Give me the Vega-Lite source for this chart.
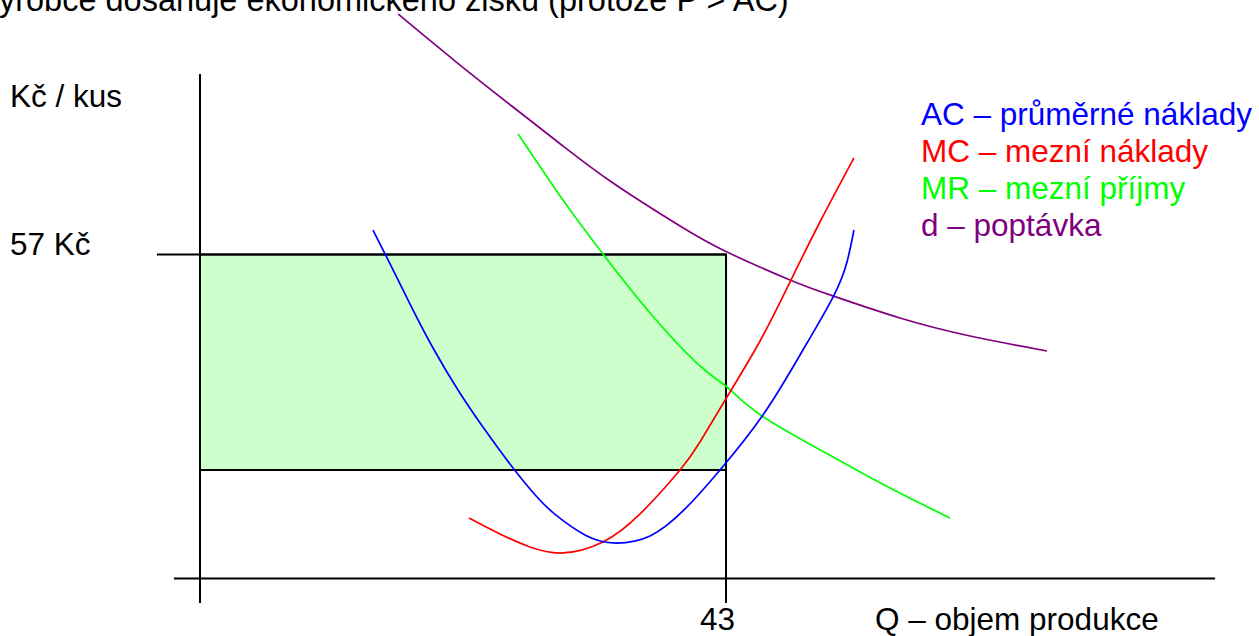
{
  "$schema": "https://vega.github.io/schema/vega-lite/v6.json",
  "width": 1259,
  "height": 636,
  "autosize": {"type": "none"},
  "padding": 0,
  "background": "white",
  "config": {"view": {"stroke": null}, "text": {"font": "Liberation Sans"}},
  "datasets": {
    "curves": [
      {"curve": "d", "q": 16.19, "p": 99.31}, {"curve": "d", "q": 20.85, "p": 91.04}, {"curve": "d", "q": 25.59, "p": 82.95},
      {"curve": "d", "q": 29.67, "p": 76.09}, {"curve": "d", "q": 33.76, "p": 69.58}, {"curve": "d", "q": 39.24, "p": 62.02},
      {"curve": "d", "q": 43.08, "p": 57.44}, {"curve": "d", "q": 48.23, "p": 52.52}, {"curve": "d", "q": 51.75, "p": 49.7},
      {"curve": "d", "q": 57.22, "p": 45.83}, {"curve": "d", "q": 62.95, "p": 42.66}, {"curve": "d", "q": 69.24, "p": 40.02},
      {"curve": "MR", "q": 26.0, "p": 78.2}, {"curve": "MR", "q": 29.67, "p": 66.59}, {"curve": "MR", "q": 32.94, "p": 57.09},
      {"curve": "MR", "q": 36.79, "p": 46.71}, {"curve": "MR", "q": 40.87, "p": 37.39}, {"curve": "MR", "q": 43.08, "p": 33.69},
      {"curve": "MR", "q": 45.94, "p": 28.59}, {"curve": "MR", "q": 51.75, "p": 21.38}, {"curve": "MR", "q": 56.41, "p": 15.92},
      {"curve": "MR", "q": 61.31, "p": 10.64},
      {"curve": "MC", "q": 21.99, "p": 10.64}, {"curve": "MC", "q": 24.52, "p": 7.83}, {"curve": "MC", "q": 26.98, "p": 5.54},
      {"curve": "MC", "q": 29.67, "p": 4.49}, {"curve": "MC", "q": 32.94, "p": 6.42}, {"curve": "MC", "q": 35.97, "p": 11.35},
      {"curve": "MC", "q": 39.24, "p": 19.09}, {"curve": "MC", "q": 40.87, "p": 24.01}, {"curve": "MC", "q": 43.08, "p": 31.93},
      {"curve": "MC", "q": 45.78, "p": 41.78}, {"curve": "MC", "q": 48.23, "p": 52.16}, {"curve": "MC", "q": 50.68, "p": 62.72},
      {"curve": "MC", "q": 53.46, "p": 73.98},
      {"curve": "AC", "q": 14.14, "p": 61.31}, {"curve": "AC", "q": 15.21, "p": 56.74}, {"curve": "AC", "q": 17.17, "p": 48.29},
      {"curve": "AC", "q": 19.05, "p": 40.55}, {"curve": "AC", "q": 21.09, "p": 33.16}, {"curve": "AC", "q": 23.13, "p": 26.65},
      {"curve": "AC", "q": 25.59, "p": 19.44}, {"curve": "AC", "q": 27.55, "p": 14.34}, {"curve": "AC", "q": 29.18, "p": 11.0},
      {"curve": "AC", "q": 31.47, "p": 7.65}, {"curve": "AC", "q": 33.76, "p": 6.25}, {"curve": "AC", "q": 36.79, "p": 7.48},
      {"curve": "AC", "q": 39.65, "p": 12.23}, {"curve": "AC", "q": 42.51, "p": 19.09}, {"curve": "AC", "q": 46.02, "p": 28.77},
      {"curve": "AC", "q": 49.05, "p": 39.32}, {"curve": "AC", "q": 51.75, "p": 49.52}, {"curve": "AC", "q": 52.89, "p": 55.68},
      {"curve": "AC", "q": 53.46, "p": 61.31}
    ],
    "segments": [
      {"q": 0, "q2": 0, "p": 88.76, "p2": -4.31},
      {"q": -2.13, "q2": 82.98, "p": 0, "p2": 0},
      {"q": -3.52, "q2": 43, "p": 57, "p2": 57},
      {"q": 43, "q2": 43, "p": 57, "p2": -4.31}
    ],
    "profit": [{"q": 0, "q2": 43, "p": 19.09, "p2": 57}],
    "title": [
      {"q": -18.21, "p": 99.93, "text": "Výrobce dosahuje ekonomického zisku (protože P > AC)"}
    ],
    "labels": [
      {"q": -15.53, "p": 82.95, "text": "Kč / kus", "color": "#000000"},
      {"q": -15.53, "p": 56.91, "text": "57 Kč", "color": "#000000"},
      {"q": 40.87, "p": -9.06, "text": "43", "color": "#000000"},
      {"q": 55.18, "p": -9.06, "text": "Q – objem produkce", "color": "#000000"},
      {"q": 58.94, "p": 79.79, "text": "AC – průměrné náklady", "color": "#0000ff"},
      {"q": 58.94, "p": 73.28, "text": "MC – mezní náklady", "color": "#ff0000"},
      {"q": 58.94, "p": 66.77, "text": "MR – mezní příjmy", "color": "#00ff00"},
      {"q": 58.94, "p": 60.26, "text": "d – poptávka", "color": "#800080"}
    ]
  },
  "layer": [
    {
      "data": {"name": "profit"},
      "mark": {"type": "rect", "fill": "#ccffcc", "stroke": "#000000", "strokeWidth": 2},
      "encoding": {
        "x": {"field": "q", "type": "quantitative", "scale": {"domain": [-16.35, 86.57], "nice": false, "zero": false}, "axis": null},
        "x2": {"field": "q2"},
        "y": {"field": "p", "type": "quantitative", "scale": {"domain": [-10.12, 101.78], "nice": false, "zero": false}, "axis": null},
        "y2": {"field": "p2"}
      }
    },
    {
      "data": {"name": "segments"},
      "mark": {"type": "rule", "color": "#000000", "strokeWidth": 2},
      "encoding": {
        "x": {"field": "q", "type": "quantitative"},
        "x2": {"field": "q2"},
        "y": {"field": "p", "type": "quantitative"},
        "y2": {"field": "p2"}
      }
    },
    {
      "data": {"name": "curves"},
      "mark": {"type": "line", "interpolate": "natural", "strokeWidth": 1.7},
      "encoding": {
        "x": {"field": "q", "type": "quantitative"},
        "y": {"field": "p", "type": "quantitative"},
        "color": {"field": "curve", "type": "nominal", "scale": {"domain": ["AC", "MC", "MR", "d"], "range": ["#0000ff", "#ff0000", "#00ff00", "#800080"]}, "legend": null}
      }
    },
    {
      "data": {"name": "title"},
      "mark": {"type": "text", "align": "left", "baseline": "alphabetic", "fontSize": 32.5, "font": "Liberation Sans", "color": "#000000"},
      "encoding": {
        "x": {"field": "q", "type": "quantitative"},
        "y": {"field": "p", "type": "quantitative"},
        "text": {"field": "text"}
      }
    },
    {
      "data": {"name": "labels"},
      "mark": {"type": "text", "align": "left", "baseline": "alphabetic", "fontSize": 31.5, "font": "Liberation Sans"},
      "encoding": {
        "x": {"field": "q", "type": "quantitative"},
        "y": {"field": "p", "type": "quantitative"},
        "text": {"field": "text"},
        "color": {"field": "color", "type": "nominal", "scale": null}
      }
    }
  ]
}
